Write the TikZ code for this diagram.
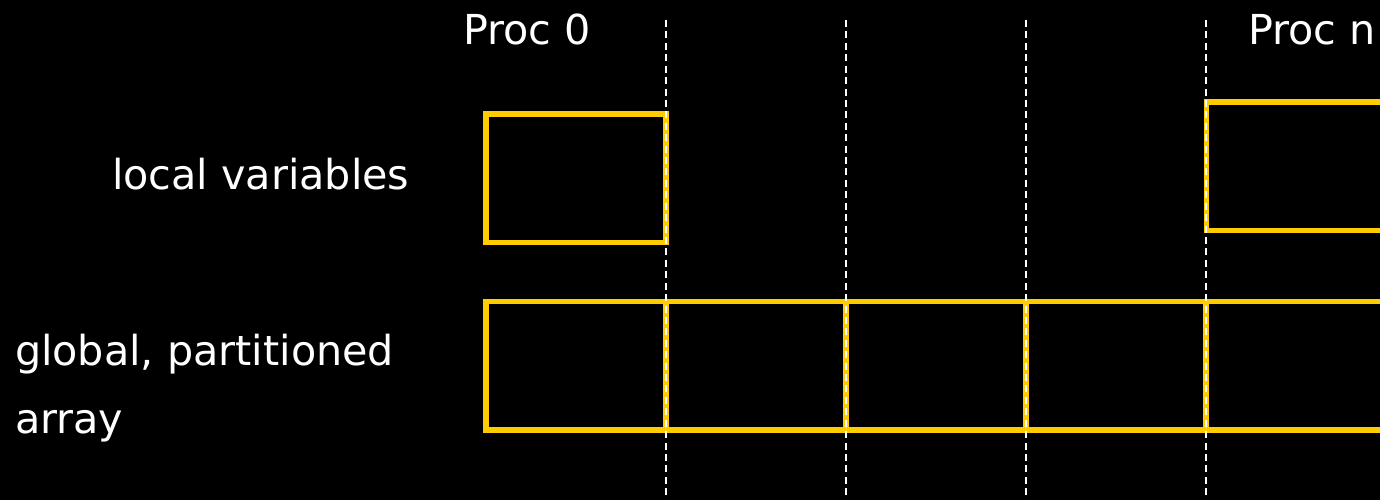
\documentclass[tikz,border=0pt]{standalone}
\usepackage{fontspec}
\setmainfont{DejaVu Sans}
\usetikzlibrary{positioning}
\definecolor{procyellow}{RGB}{255,204,0}

\begin{document}
\begin{tikzpicture}[
    x=0.02cm, y=-0.02cm,
    every node/.style={text=white, inner sep=0pt, outer sep=0pt,
                       font=\fontsize{23.5}{38.6}\selectfont},
    txt/.style={anchor=base west, align=left},
    cell/.style={draw=procyellow, line width=3.3pt, anchor=north west,
                 minimum width=3.6cm, minimum height=2.57cm},
    divider/.style={draw=white, line width=1pt, dash pattern=on 4pt off 2.5pt}
]
\fill[black] (0,0) rectangle (1380,500);
\clip (0,0) rectangle (1380,500);
% labels
\node[txt] (proc0) at (463,45)  {Proc 0};
\node[txt] (procn) at (1248,45) {Proc n};
\node[txt] (lvars) at (112,190) {local variables};
\node[txt] (garr)  at (15,433)  {global, partitioned\\array};
% local boxes
\node[cell] (loc0) at (486,114)  {};
\node[cell] (locn) at (1206.5,102) {};
% partitioned array
\foreach \x [count=\i from 0] in {486,666,846,1026,1206}
  \node[cell] (arr\i) at (\x,301.5) {};
% process boundaries
\foreach \x [count=\i] in {666,846,1026,1206} {
  \coordinate (top\i) at (\x,20);
  \coordinate (bot\i) at (\x,500);
  \draw[divider] (top\i) -- (bot\i);
}
\end{tikzpicture}
\end{document}
